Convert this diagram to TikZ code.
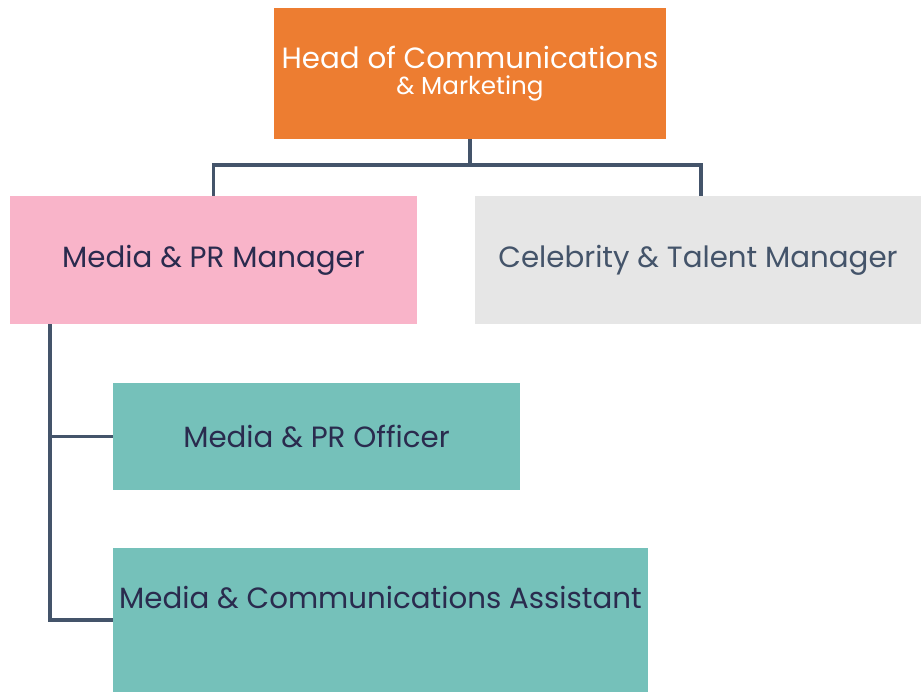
\documentclass[tikz,border=0pt]{standalone}
\usepackage{fontspec}
\setmainfont{Poppins}
\usetikzlibrary{positioning}
\definecolor{headorange}{HTML}{ED7D31}
\definecolor{mgrpink}{HTML}{F9B4C9}
\definecolor{celebgray}{HTML}{E6E6E6}
\definecolor{staffteal}{HTML}{75C1BA}
\definecolor{inknavy}{HTML}{2A2B4E}
\definecolor{slateblue}{HTML}{44546A}

\begin{document}
\begin{tikzpicture}[x=0.03cm,y=-0.03cm]
% les styles
\tikzstyle postbox=[rectangle,inner sep=0pt,text=inknavy,font=\fontsize{25}{28}\selectfont]
\tikzstyle link=[color=slateblue,line width=2.7pt]
\useasboundingbox (0,0) rectangle (921,692);
% les boites
\node [postbox,fill=headorange,text=white,minimum width=392*0.03cm,minimum height=131*0.03cm,align=center] (head) at (470,73.5)
  {Head of Communications\\[-6pt]{\fontsize{21}{24}\selectfont \& Marketing}};
\node [postbox,fill=mgrpink,minimum width=407*0.03cm,minimum height=128*0.03cm] (mgr) at (213.5,260) {Media \& PR Manager};
\node [postbox,fill=celebgray,text=slateblue,minimum width=446*0.03cm,minimum height=128*0.03cm] (celeb) at (698,260) {Celebrity \& Talent Manager};
\node [postbox,fill=staffteal,minimum width=407*0.03cm,minimum height=107*0.03cm] (officer) at (316.5,436.5) {Media \& PR Officer};
\node [postbox,fill=staffteal,minimum width=535*0.03cm,text height=1.8cm,text depth=2.52cm] (assist) at (380.5,620) {Media \& Communications Assistant};
% les liens
\coordinate (split) at (470,165);
\coordinate (trunk) at (50,324);
\draw [link] (head.south) -- (split);
\draw [link] (split) -| (mgr.north);
\draw [link] (split) -| (celeb.north -| 701,0);
\draw [link] (trunk) |- (officer.west);
\draw [link] (trunk) |- (assist.west);
\end{tikzpicture}
\end{document}
